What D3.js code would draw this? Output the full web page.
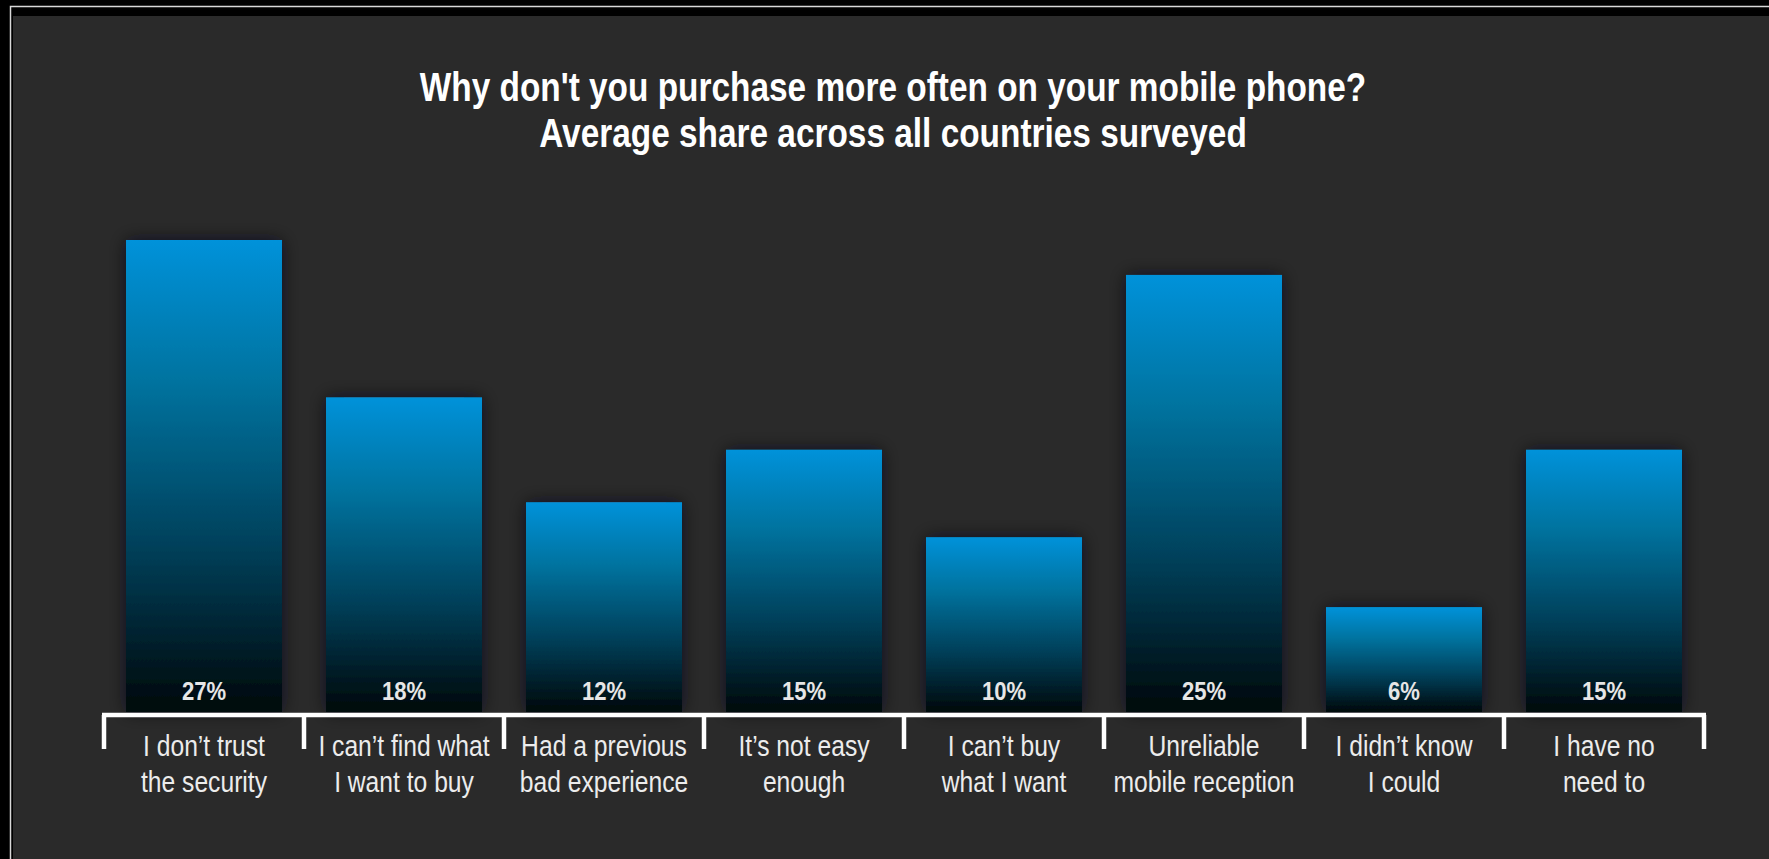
<!DOCTYPE html>
<html>
<head>
<meta charset="utf-8">
<script src="https://cdn.jsdelivr.net/npm/d3@7"></script>
<style>
  html, body { margin: 0; padding: 0; background: #000; overflow: hidden; }
  svg { display: block; }
</style>
</head>
<body>
<svg id="chart" width="1769" height="859"></svg>
<script>
// Survey answers, two-line labels as printed under each bar
const categories = [
  ["I don\u2019t trust", "the security"],
  ["I can\u2019t find what", "I want to buy"],
  ["Had a previous", "bad experience"],
  ["It\u2019s not easy", "enough"],
  ["I can\u2019t buy", "what I want"],
  ["Unreliable", "mobile reception"],
  ["I didn\u2019t know", "I could"],
  ["I have no", "need to"]
];
// Average share of respondents, in percent
const shares = [27, 18, 12, 15, 10, 25, 6, 15];
const titleLines = [
  "Why don't you purchase more often on your mobile phone?",
  "Average share across all countries surveyed"
];

const W = 1769, H = 859;
const svg = d3.select("#chart");
const FONT = "'Liberation Sans', Arial, Helvetica, sans-serif";

// framed dark panel
svg.append("rect").attr("width", W).attr("height", H).attr("fill", "#000");
svg.append("rect").attr("x", 10.5).attr("y", 6.5).attr("width", W).attr("height", H)
  .attr("fill", "none").attr("stroke", "#d8d8d8").attr("stroke-width", 1.5);
svg.append("rect").attr("x", 13).attr("y", 16).attr("width", W - 13).attr("height", H - 16)
  .attr("fill", "#2a2a2a");

const defs = svg.append("defs");
const grad = defs.append("linearGradient").attr("id", "barFill")
  .attr("x1", 0).attr("y1", 0).attr("x2", 0).attr("y2", 1);
[[0, "#0592da"], [0.3, "#06739f"], [0.65, "#04405a"], [1, "#05080a"]].forEach(([o, c]) =>
  grad.append("stop").attr("offset", o).attr("stop-color", c));

const glow = defs.append("filter").attr("id", "barGlow")
  .attr("x", "-20%").attr("y", "-20%").attr("width", "140%").attr("height", "140%");
glow.append("feDropShadow").attr("dx", 0).attr("dy", 0).attr("stdDeviation", 9)
  .attr("flood-color", "#12171c").attr("flood-opacity", 0.7);

// scales
const x = d3.scaleBand()
  .domain(d3.range(categories.length))
  .range([104, 1704])
  .paddingInner(0.22)
  .paddingOuter(0.11);
const y = d3.scaleLinear().domain([0, 27]).range([712, 240]);

// title
const title = svg.append("g").attr("transform", "translate(893,0)");
titleLines.forEach((t, i) => {
  title.append("text")
    .attr("transform", `translate(0,${101 + i * 46}) scale(0.835,1)`)
    .attr("text-anchor", "middle")
    .attr("font-family", FONT).attr("font-weight", "bold").attr("font-size", 40)
    .attr("fill", "#ffffff")
    .text(t);
});

// bars
svg.append("g").selectAll("rect").data(shares).join("rect")
  .attr("x", (d, i) => x(i))
  .attr("y", d => y(d))
  .attr("width", x.bandwidth())
  .attr("height", d => y(0) - y(d))
  .attr("fill", "url(#barFill)")
  .attr("filter", "url(#barGlow)");

// value labels inside the bar foot
svg.append("g").selectAll("text").data(shares).join("text")
  .attr("transform", (d, i) => `translate(${x(i) + x.bandwidth() / 2},700) scale(0.85,1)`)
  .attr("text-anchor", "middle")
  .attr("font-family", FONT).attr("font-size", 26).attr("font-weight", "bold")
  .attr("fill", "#e6e6e6")
  .text(d => d + "%");

// bracket axis: one line with a tick at every band boundary
const half = x.step() * x.paddingInner() / 2;
const bounds = d3.range(categories.length + 1).map(i =>
  i < categories.length ? x(i) - half : x(i - 1) + x.bandwidth() + half);
const axisY = 715;
const axis = svg.append("g").attr("stroke", "#ffffff").attr("stroke-width", 4.5)
  .attr("fill", "none");
axis.append("line").attr("x1", bounds[0] - 2).attr("x2", bounds[bounds.length - 1] + 2)
  .attr("y1", axisY).attr("y2", axisY);
axis.selectAll("line.tick").data(bounds).join("line").attr("class", "tick")
  .attr("x1", d => d).attr("x2", d => d)
  .attr("y1", axisY).attr("y2", axisY + 34);

// category labels
const labels = svg.append("g");
categories.forEach((lines, i) => {
  lines.forEach((t, j) => {
    labels.append("text")
      .attr("transform", `translate(${x(i) + x.bandwidth() / 2},${756 + j * 36}) scale(0.85,1)`)
      .attr("text-anchor", "middle")
      .attr("font-family", FONT).attr("font-size", 29)
      .attr("fill", "#ececec")
      .text(t);
  });
});
</script>
</body>
</html>
